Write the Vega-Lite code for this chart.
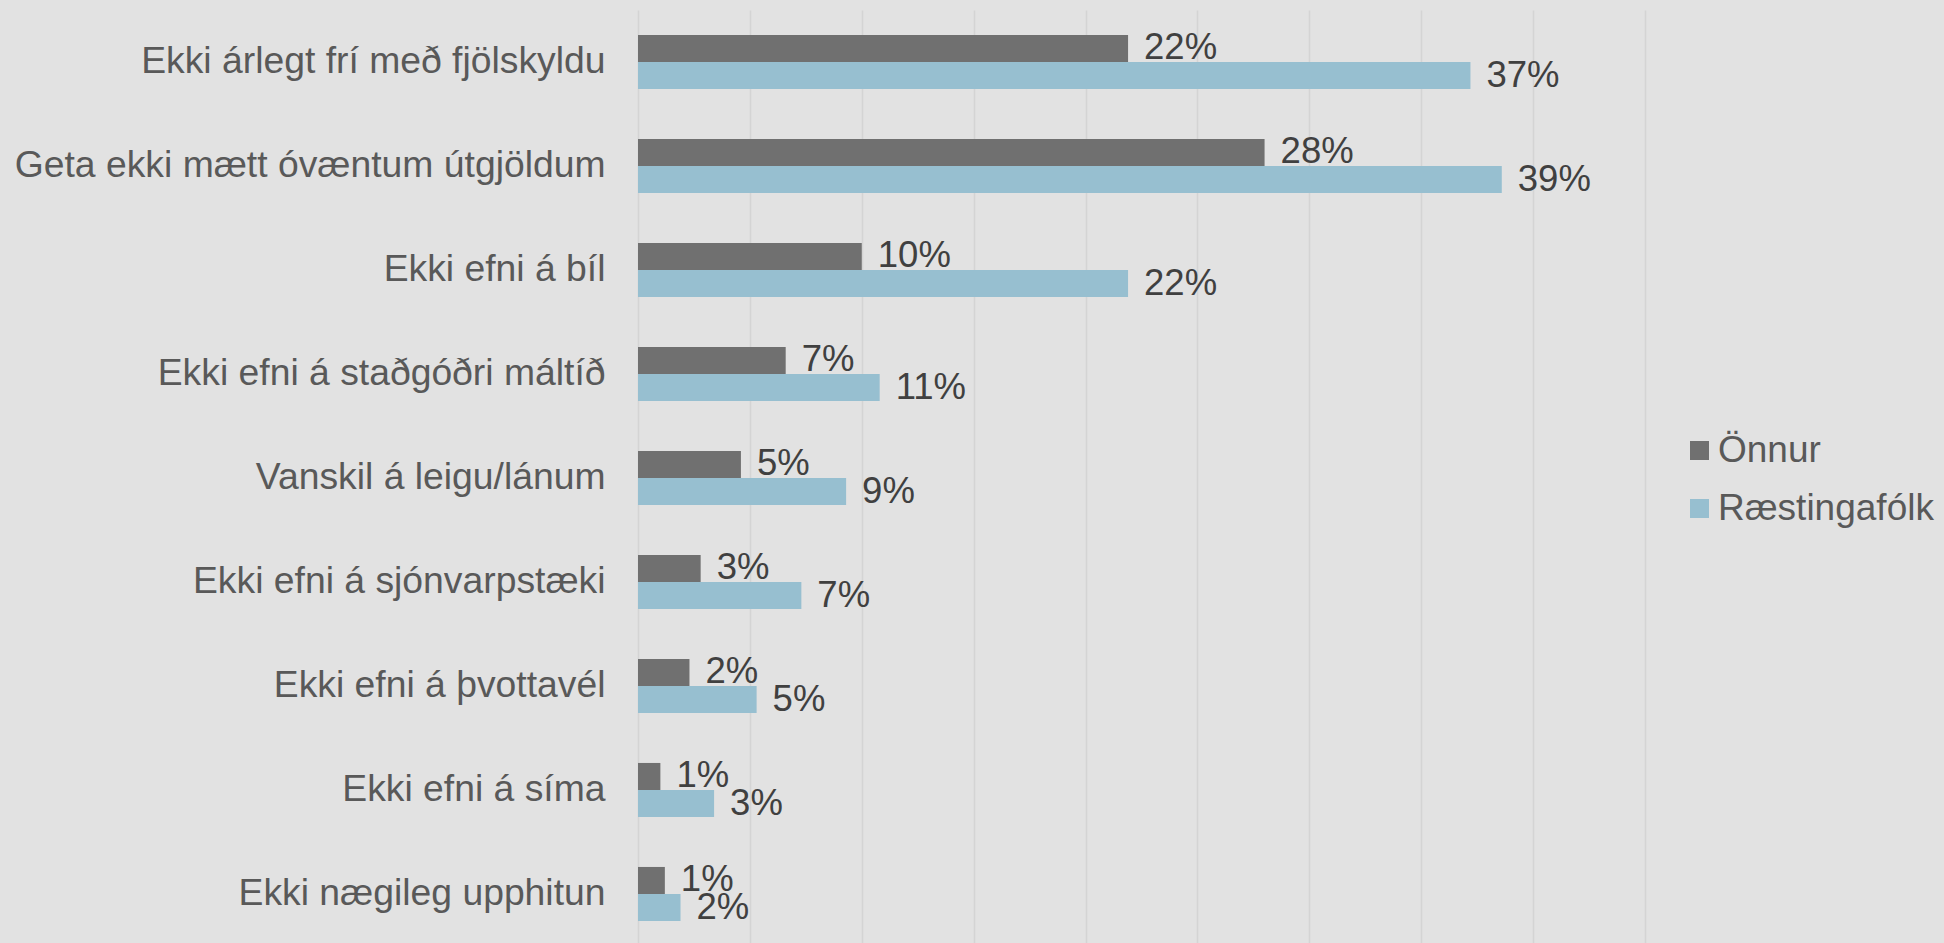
{
  "$schema": "https://vega.github.io/schema/vega-lite/v6.json",
  "autosize": {"type": "none"},
  "padding": {"left": 638, "top": 10, "right": 299, "bottom": 0},
  "width": 1007,
  "height": 936,
  "background": "#E2E2E2",
  "config": {
    "view": {"stroke": null},
    "font": "Liberation Sans"
  },
  "data": {
    "values": [
      {"cat": "Ekki árlegt frí með fjölskyldu", "group": "Önnur", "value": 0.219},
      {"cat": "Ekki árlegt frí með fjölskyldu", "group": "Ræstingafólk", "value": 0.372},
      {"cat": "Geta ekki mætt óvæntum útgjöldum", "group": "Önnur", "value": 0.280},
      {"cat": "Geta ekki mætt óvæntum útgjöldum", "group": "Ræstingafólk", "value": 0.386},
      {"cat": "Ekki efni á bíl", "group": "Önnur", "value": 0.100},
      {"cat": "Ekki efni á bíl", "group": "Ræstingafólk", "value": 0.219},
      {"cat": "Ekki efni á staðgóðri máltíð", "group": "Önnur", "value": 0.066},
      {"cat": "Ekki efni á staðgóðri máltíð", "group": "Ræstingafólk", "value": 0.108},
      {"cat": "Vanskil á leigu/lánum", "group": "Önnur", "value": 0.046},
      {"cat": "Vanskil á leigu/lánum", "group": "Ræstingafólk", "value": 0.093},
      {"cat": "Ekki efni á sjónvarpstæki", "group": "Önnur", "value": 0.028},
      {"cat": "Ekki efni á sjónvarpstæki", "group": "Ræstingafólk", "value": 0.073},
      {"cat": "Ekki efni á þvottavél", "group": "Önnur", "value": 0.023},
      {"cat": "Ekki efni á þvottavél", "group": "Ræstingafólk", "value": 0.053},
      {"cat": "Ekki efni á síma", "group": "Önnur", "value": 0.010},
      {"cat": "Ekki efni á síma", "group": "Ræstingafólk", "value": 0.034},
      {"cat": "Ekki nægileg upphitun", "group": "Önnur", "value": 0.012},
      {"cat": "Ekki nægileg upphitun", "group": "Ræstingafólk", "value": 0.019}
    ]
  },
  "encoding": {
    "y": {
      "field": "cat",
      "type": "nominal",
      "sort": null,
      "scale": {"paddingInner": 0.48, "paddingOuter": 0.24},
      "axis": {
        "title": null,
        "domain": false,
        "ticks": false,
        "labelPadding": 33,
        "labelFontSize": 37.3,
        "labelColor": "#595959",
        "labelLimit": 700,
        "labelFont": "Liberation Sans"
      }
    },
    "yOffset": {
      "field": "group",
      "type": "nominal",
      "scale": {"domain": ["Önnur", "Ræstingafólk"], "paddingInner": 0, "paddingOuter": 0}
    },
    "x": {
      "field": "value",
      "type": "quantitative",
      "scale": {"domain": [0, 0.45], "nice": false},
      "axis": {
        "title": null,
        "labels": false,
        "ticks": false,
        "domain": false,
        "grid": true,
        "gridColor": "#D4D4D4",
        "gridWidth": 1.5,
        "values": [0, 0.05, 0.1, 0.15, 0.2, 0.25, 0.3, 0.35, 0.4, 0.45]
      }
    }
  },
  "layer": [
    {
      "mark": {"type": "bar"},
      "encoding": {
        "color": {
          "field": "group",
          "type": "nominal",
          "scale": {"domain": ["Önnur", "Ræstingafólk"], "range": ["#707070", "#97BFD0"]},
          "legend": {
            "title": null,
            "orient": "none",
            "legendX": 1043,
            "legendY": 422,
            "symbolType": "square",
            "symbolSize": 361,
            "symbolStrokeWidth": 0,
            "labelFontSize": 37,
            "labelColor": "#595959",
            "labelFont": "Liberation Sans",
            "labelOffset": 0,
            "rowPadding": 20,
            "labelLimit": 400
          }
        }
      }
    },
    {
      "mark": {"type": "text", "align": "left", "baseline": "middle", "dx": 16, "fontSize": 36.5, "color": "#404040", "font": "Liberation Sans"},
      "encoding": {
        "text": {"field": "value", "type": "quantitative", "format": ".0%"}
      }
    }
  ]
}
